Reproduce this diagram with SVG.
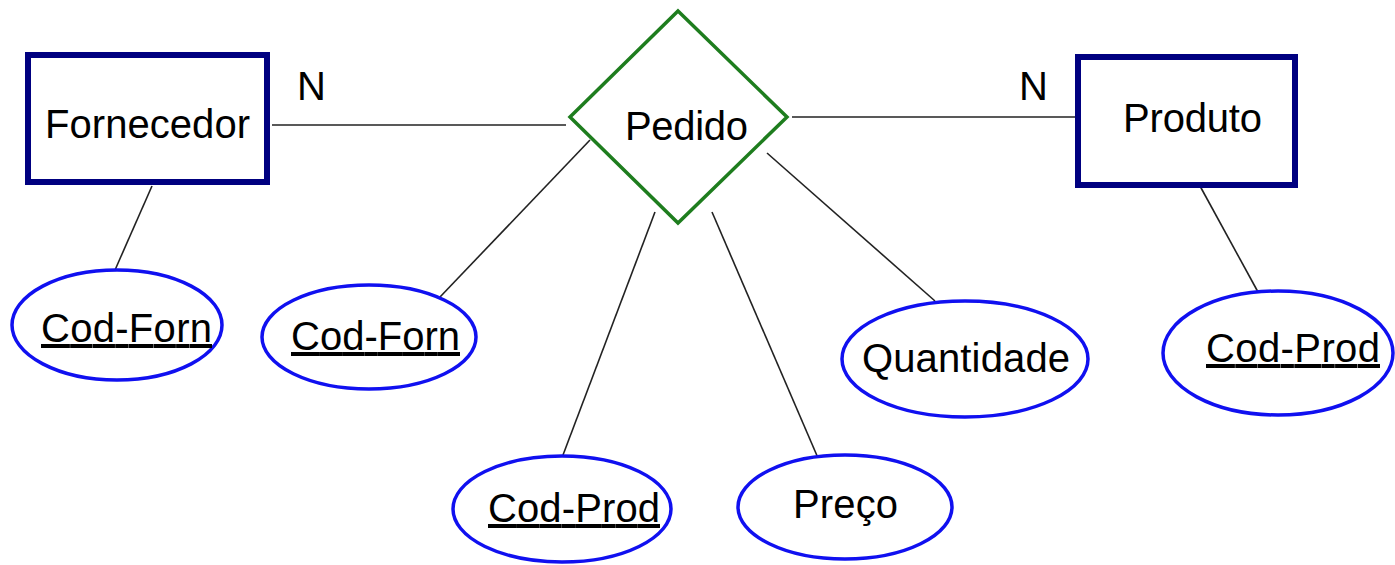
<svg xmlns="http://www.w3.org/2000/svg" width="1395" height="565" viewBox="0 0 1395 565">
<style>
.ent{fill:#fff;stroke:#000080;stroke-width:6}
.rel{fill:#fff;stroke:#1e7d1e;stroke-width:3.5}
.att{fill:#fff;stroke:#1010f0;stroke-width:3.5}
.t{font-family:"Liberation Sans",Arial,sans-serif;font-size:40px;fill:#000}
.u{text-decoration:underline}
.c line{stroke:#222;stroke-width:1.6}
</style>
<rect width="1395" height="565" fill="#fff"/>
<g class="c" id="connectors">
<line x1="272" y1="125" x2="566" y2="125"/>
<line x1="792" y1="117" x2="1075" y2="117"/>
<line x1="152" y1="186" x2="115" y2="270"/>
<line x1="590" y1="140" x2="440" y2="297"/>
<line x1="655" y1="212" x2="563" y2="455"/>
<line x1="712" y1="212" x2="818" y2="458"/>
<line x1="767" y1="153" x2="935" y2="301"/>
<line x1="1200" y1="186" x2="1258" y2="292"/>
</g>
<text class="t" x="297" y="100">N</text>
<text class="t" x="1019" y="100">N</text>
<g id="fornecedor">
<rect class="ent" x="28" y="55" width="239" height="127"/>
<text class="t" x="45" y="138" textLength="205">Fornecedor</text>
</g>
<g id="pedido">
<polygon class="rel" points="678,11 787,117 678,223 570,117"/>
<text class="t" x="625" y="140" textLength="123">Pedido</text>
</g>
<g id="produto">
<rect class="ent" x="1078" y="57" width="217" height="128"/>
<text class="t" x="1123" y="132" textLength="139">Produto</text>
</g>
<g id="attr-codforn1">
<ellipse class="att" cx="117" cy="325" rx="105" ry="55"/>
<text class="t u" x="41" y="342" textLength="171">Cod-Forn</text>
</g>
<g id="attr-codforn2">
<ellipse class="att" cx="369" cy="337" rx="107" ry="52"/>
<text class="t u" x="291" y="350" textLength="169">Cod-Forn</text>
</g>
<g id="attr-codprod1">
<ellipse class="att" cx="562" cy="509" rx="109" ry="53"/>
<text class="t u" x="488" y="522" textLength="172">Cod-Prod</text>
</g>
<g id="attr-preco">
<ellipse class="att" cx="845" cy="507" rx="107" ry="52"/>
<text class="t" x="793" y="518" textLength="105">Preço</text>
</g>
<g id="attr-quantidade">
<ellipse class="att" cx="965" cy="359" rx="123" ry="58"/>
<text class="t" x="862" y="372" textLength="208">Quantidade</text>
</g>
<g id="attr-codprod2">
<ellipse class="att" cx="1278" cy="353" rx="115" ry="62"/>
<text class="t u" x="1206" y="362" textLength="174">Cod-Prod</text>
</g>
</svg>
